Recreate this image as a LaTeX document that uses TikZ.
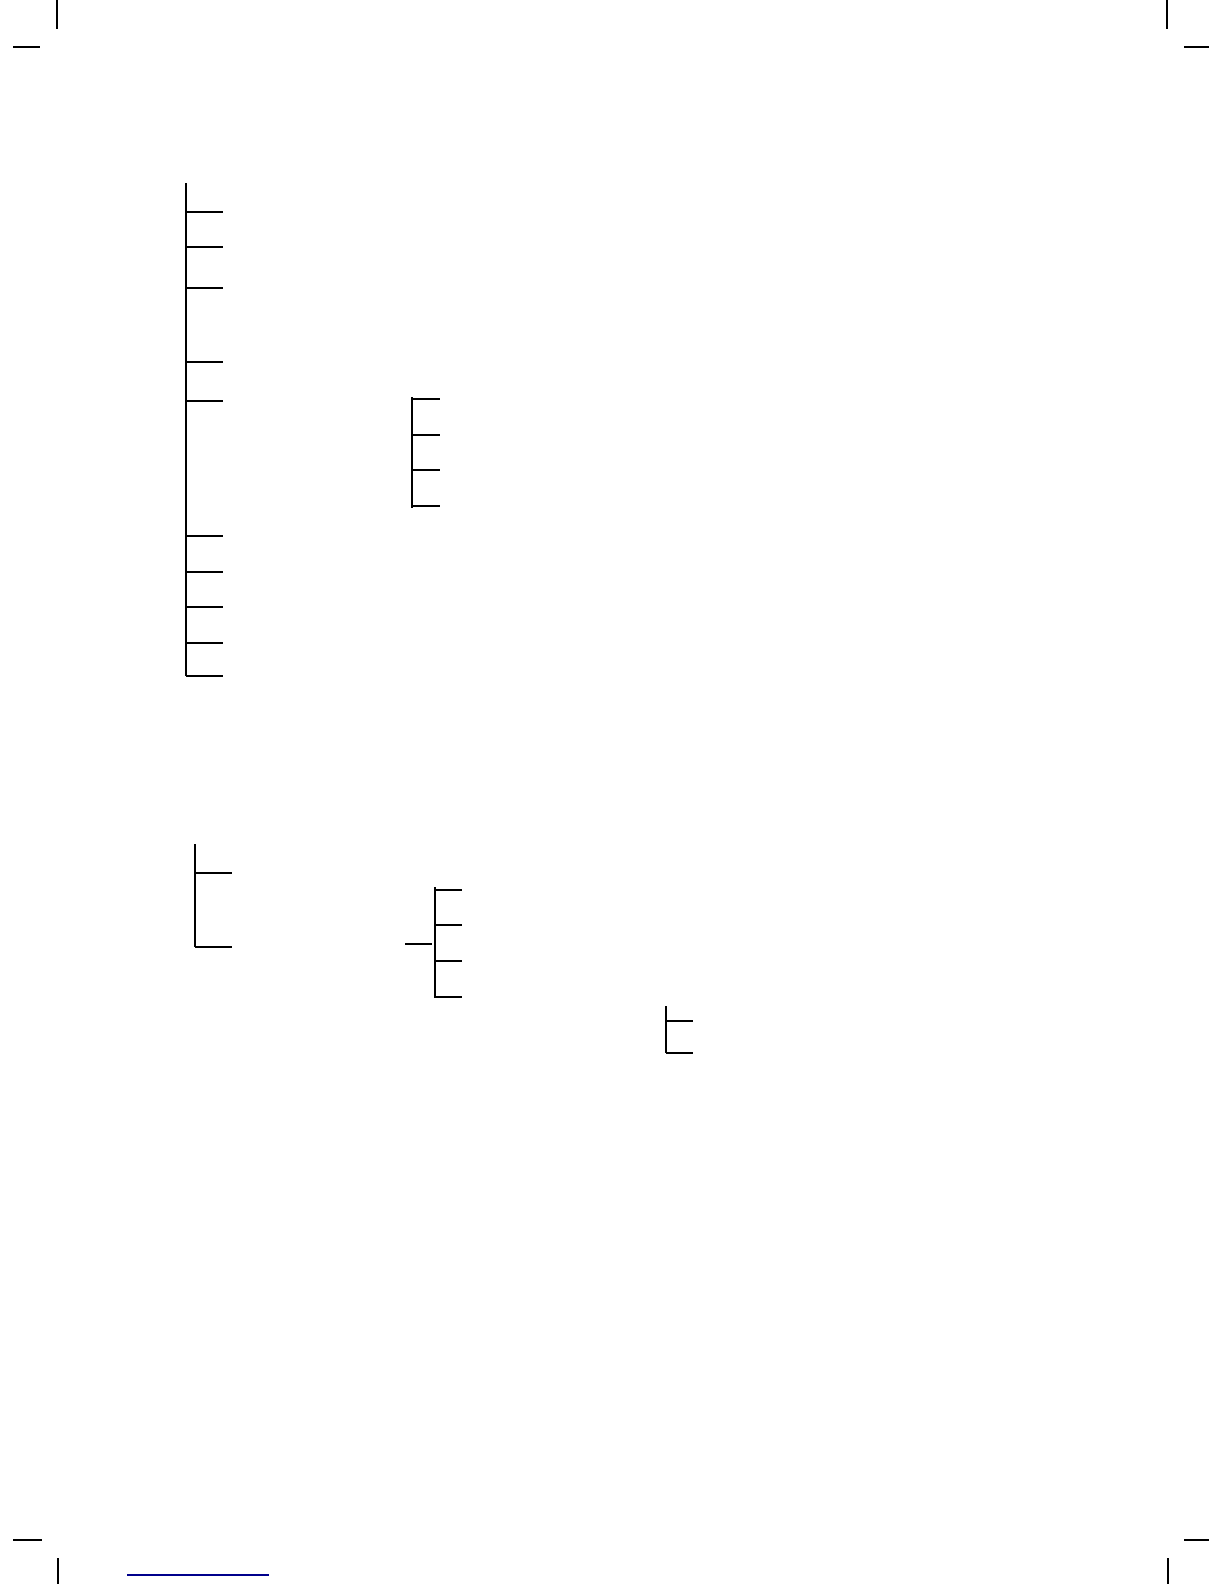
\documentclass[tikz,border=0pt]{standalone}
\usepackage{tikz}
\usetikzlibrary{calc}

\begin{document}
\begin{tikzpicture}[x=0.5pt,y=-0.5pt,line width=1.2pt,
                    stem/.style={line width=1.3pt},
                    leaf/.style={line width=1.2pt},
                    crop mark/.style={line width=1.2pt},
                    link line/.style={line width=0.6pt,color=blue!55!black}]

  \useasboundingbox (0,0) rectangle (1224,1584);

  % crop marks
  \draw[crop mark] (57,0) -- (57,29);
  \draw[crop mark] (13,47) -- (40,47);
  \draw[crop mark] (1167,0) -- (1167,29);
  \draw[crop mark] (1184,47) -- (1209,47);
  \draw[crop mark] (13,1540) -- (42,1540);
  \draw[crop mark] (58,1558) -- (58,1584);
  \draw[crop mark] (1184,1540) -- (1209,1540);
  \draw[crop mark] (1168,1558) -- (1168,1584);

  % first bracket
  \coordinate (A top) at (186,183);
  \coordinate (A bot) at (186,676);
  \draw[stem] (A top) -- (A bot);
  \foreach \y [count=\i] in {212,247,288,362,401,536,572,607,643,676}
    \draw[leaf] (186,\y) coordinate (A\i) -- ++(37,0);

  % second bracket
  \coordinate (B top) at (412,397);
  \coordinate (B bot) at (412,508);
  \draw[stem] (B top) -- (B bot);
  \foreach \y [count=\i] in {399,435,470,506}
    \draw[leaf] (412,\y) coordinate (B\i) -- ++(28,0);

  % third bracket
  \coordinate (C top) at (195,844);
  \coordinate (C bot) at (195,947);
  \draw[stem] (C top) -- (C bot);
  \foreach \y [count=\i] in {873,947}
    \draw[leaf] (195,\y) coordinate (C\i) -- ++(37,0);

  % fourth bracket, with its incoming stub
  \coordinate (D top) at (435,887);
  \coordinate (D bot) at (435,998);
  \coordinate (D in) at (405,944);
  \draw[stem] (D top) -- (D bot);
  \draw[leaf] (D in) -- (432,944);
  \foreach \y [count=\i] in {890,925,961,997}
    \draw[leaf] (435,\y) coordinate (D\i) -- ++(27,0);

  % fifth bracket
  \coordinate (E top) at (666,1006);
  \coordinate (E bot) at (666,1053);
  \draw[stem] (E top) -- (E bot);
  \foreach \y [count=\i] in {1021,1053}
    \draw[leaf] (666,\y) coordinate (E\i) -- ++(27,0);

  % footer rule
  \draw[link line] (127,1575) -- (269,1575);

\end{tikzpicture}
\end{document}
